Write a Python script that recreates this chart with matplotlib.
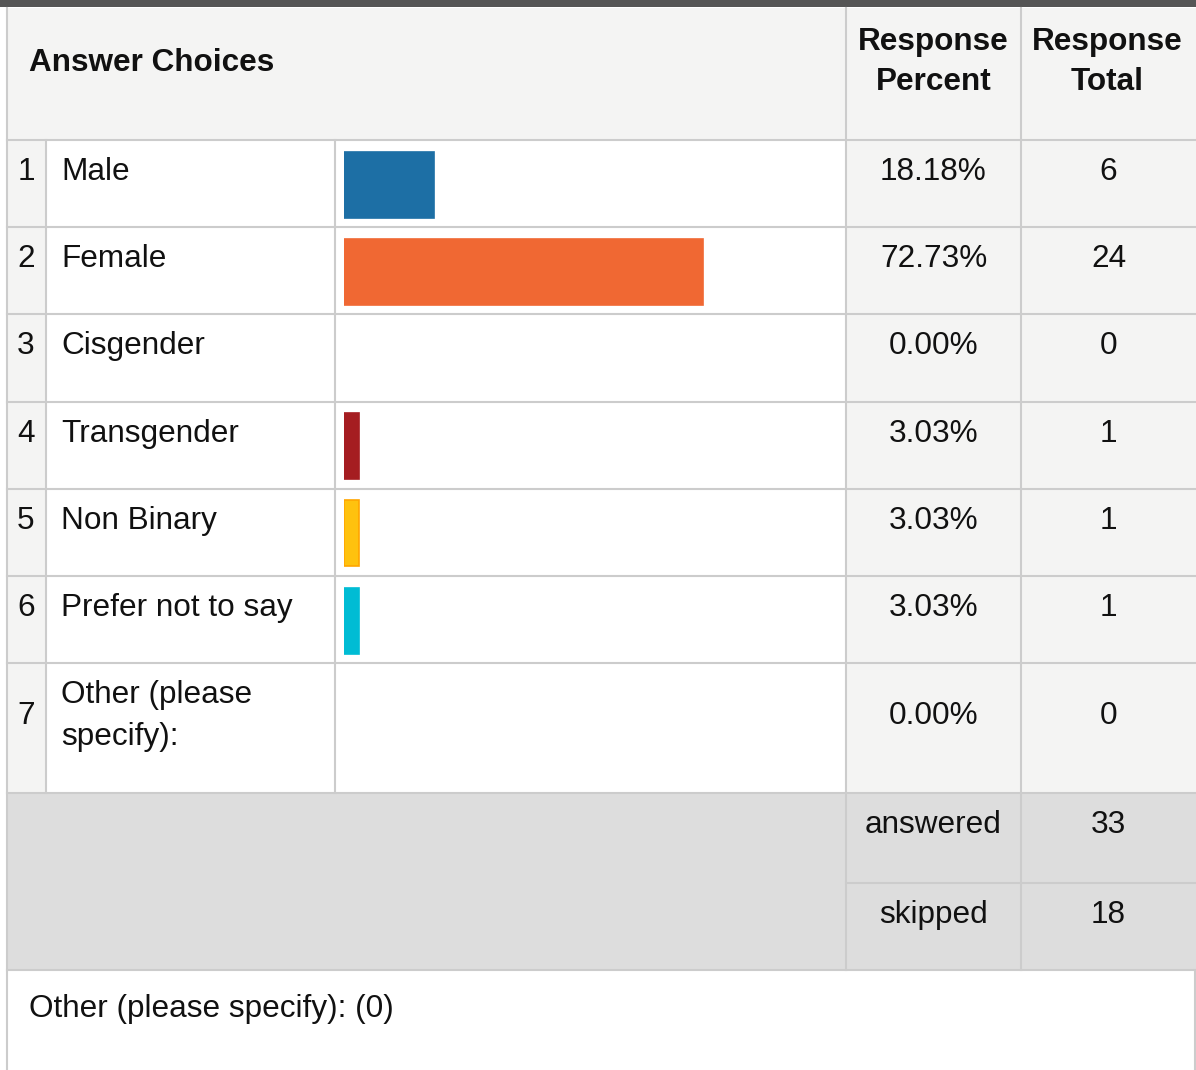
import matplotlib
matplotlib.use("Agg")
import matplotlib.pyplot as plt
import matplotlib.patches as mpatches

# ── Data ───────────────────────────────────────────────────────────────────────
ROW_NUMBERS = [1, 2, 3, 4, 5, 6, 7]
CHOICES = ["Male", "Female", "Cisgender", "Transgender", "Non Binary",
           "Prefer not to say", "Other (please\nspecify):"]
PERCENTS = [18.18, 72.73, 0.00, 3.03, 3.03, 3.03, 0.00]
TOTALS = [6, 24, 0, 1, 1, 1, 0]
SUMMARY_LABELS = ["answered", "skipped"]
SUMMARY_VALUES = [33, 18]
FOOTER = "Other (please specify): (0)"

BAR_COLORS = ["#1D6FA5", "#F06833", "#9E9E9E", "#A51D21", "#FFC20E", "#00BCD4", "#9E9E9E"]
BAR_EDGES = ["#1D6FA5", "#F06833", "#9E9E9E", "#A51D21", "#FFA500", "#00BCD4", "#9E9E9E"]

# ── Layout (pixels) ────────────────────────────────────────────────────────────
W, H = 1196, 1070
FONT = "Liberation Sans"
FS = 22.7
GRID = "#CCCCCC"
LIGHT = "#F4F4F3"
SUMBG = "#DDDDDD"

X_LEFT, X_NUM, X_CHOICE, X_BAR, X_PCT, X_RIGHT = 7, 46, 335, 846, 1021, 1196
HEAD_TOP, HEAD_BOT = 8, 140
ROW_H = 87.2
row_tops = [HEAD_BOT + ROW_H * i for i in range(7)]
ROW7_BOT = 793
SUM_MID, SUM_BOT = 883, 970
row_bots = row_tops[1:] + [ROW7_BOT]

fig = plt.figure(figsize=(W / 100, H / 100), dpi=100)
ax = fig.add_axes([0, 0, 1, 1])
ax.set_xlim(0, W)
ax.set_ylim(H, 0)
ax.axis("off")


def rect(x0, y0, x1, y1, color):
    ax.add_patch(mpatches.Rectangle((x0, y0), x1 - x0, y1 - y0,
                                    facecolor=color, edgecolor="none", zorder=0))


def txt(x, y, s, ha="left", bold=False):
    ax.text(x, y, s, ha=ha, va="baseline", fontsize=FS, family=FONT,
            fontweight="bold" if bold else "normal", color="#111111", zorder=3)


# backgrounds
rect(0, 0, W, H, "white")
rect(0, 0, W, 7, "#555555")
rect(X_LEFT, HEAD_TOP, X_RIGHT, HEAD_BOT, LIGHT)
rect(X_LEFT, HEAD_BOT, X_NUM, ROW7_BOT, LIGHT)
rect(X_BAR, HEAD_BOT, X_RIGHT, ROW7_BOT, LIGHT)
rect(X_LEFT, ROW7_BOT, X_RIGHT, SUM_BOT, SUMBG)

# grid lines
lw = 1.5
ax.plot([X_LEFT, X_LEFT], [HEAD_TOP, H], color=GRID, lw=lw, zorder=1)
ax.plot([X_RIGHT - 1, X_RIGHT - 1], [SUM_BOT, H], color=GRID, lw=lw, zorder=1)
for y in [HEAD_BOT] + row_bots + [SUM_BOT]:
    ax.plot([X_LEFT, X_RIGHT], [y, y], color=GRID, lw=lw, zorder=1)
ax.plot([X_BAR, X_RIGHT], [SUM_MID, SUM_MID], color=GRID, lw=lw, zorder=1)
for x in [X_NUM, X_CHOICE]:
    ax.plot([x, x], [HEAD_BOT, ROW7_BOT], color=GRID, lw=lw, zorder=1)
for x in [X_BAR, X_PCT]:
    ax.plot([x, x], [HEAD_TOP, SUM_BOT], color=GRID, lw=lw, zorder=1)

# header
txt(29, 71, "Answer Choices", bold=True)
txt((X_BAR + X_PCT) / 2, 50, "Response", ha="center", bold=True)
txt((X_BAR + X_PCT) / 2, 90, "Percent", ha="center", bold=True)
txt((X_PCT + X_RIGHT) / 2 - 1, 50, "Response", ha="center", bold=True)
txt((X_PCT + X_RIGHT) / 2 - 1, 90, "Total", ha="center", bold=True)

# rows
for i, (n, c, p, t) in enumerate(zip(ROW_NUMBERS, CHOICES, PERCENTS, TOTALS)):
    top = row_tops[i]
    lines = c.split("\n")
    if len(lines) > 1:
        base = top + 61
        for k, line in enumerate(lines):
            txt(61, top + 40 + 42 * k, line)
    else:
        base = top + 40
        txt(61, base, c)
    txt(26, base, str(n), ha="center")
    txt((X_BAR + X_PCT) / 2, base, f"{p:.2f}%", ha="center")
    txt((X_PCT + X_RIGHT) / 2, base, str(t), ha="center")

# summary
for lab, val, base in zip(SUMMARY_LABELS, SUMMARY_VALUES, [833, 923]):
    txt((X_BAR + X_PCT) / 2, base, lab, ha="center")
    txt((X_PCT + X_RIGHT) / 2, base, str(val), ha="center")

# footer
txt(29, 1017, FOOTER)

# bars on their own percent axis
BAR_X0, BAR_X100 = 344, 837.6
bax = fig.add_axes([BAR_X0 / W, 0, (BAR_X100 - BAR_X0) / W, 1])
bax.set_xlim(0, 100)
bax.set_ylim(H, 0)
bax.axis("off")
bax.patch.set_alpha(0)
centers = [top + 44.5 for top in row_tops]
edge_w = [1.2 if p > 0 else 0 for p in PERCENTS]
bax.barh(centers, PERCENTS, height=66, color=BAR_COLORS,
         edgecolor=BAR_EDGES, linewidth=edge_w)

fig.savefig("out.png", dpi=100)
